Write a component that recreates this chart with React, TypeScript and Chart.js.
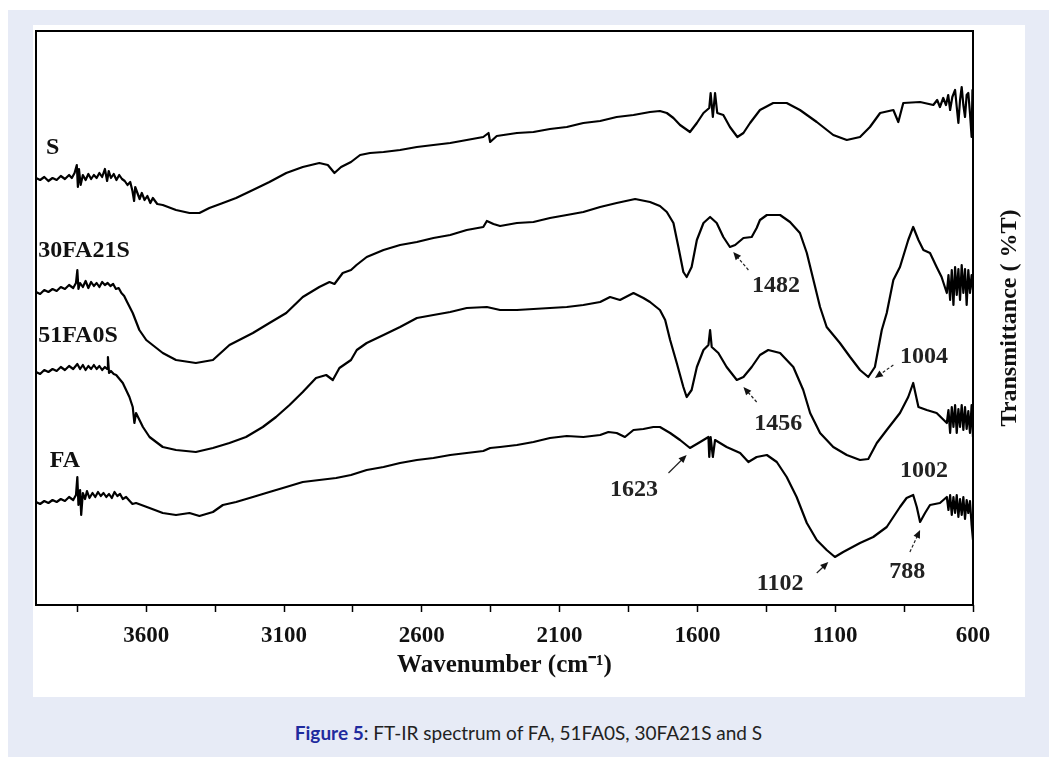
import React, { useEffect, useRef } from "react";
import { Chart, registerables } from "chart.js";

Chart.register(...registerables);

// ---------- data (wavenumber in cm-1, transmittance in arbitrary offset units) ----------
const S_WN = [4000,3985,3970,3955,3940,3925,3910,3895,3880,3870,3860,3852,3848,3844,3838,3830,3820,3810,3800,3790,3780,3770,3760,3750,3742,3736,3728,3718,3708,3698,3688,3678,3668,3658,3650,3644,3640,3632,3624,3616,3606,3596,3585,3576,3560,3540,3492,3443,3407,3371,3322,3274,3213,3153,3092,3032,2972,2941,2917,2893,2857,2824,2788,2739,2679,2618,2558,2497,2437,2377,2358,2352,2328,2255,2195,2135,2074,2014,1953,1893,1832,1772,1736,1711,1687,1663,1627,1602,1578,1557,1552,1544,1536,1528,1506,1482,1455,1433,1409,1373,1325,1276,1228,1167,1107,1058,1010,974,937,889,871,853,792,744,730,720,708,698,690,683,675,665,659,653,647,641,635,629,623,617,611,605,602,600];
const S_T = [427,425,428,424,427,425,429,426,430,427,432,440,418,436,420,430,425,431,426,430,427,432,428,436,424,434,427,431,425,430,426,424,420,423,414,404,418,412,406,412,405,409,402,407,401,400,395,392,392,397,402,407,415,423,432,438,442,440,432,438,443,450,452,453,455,458,460,462,465,468,472,463,469,472,473,476,478,482,484,488,490,493,494,492,487,480,473,482,492,497,512,488,512,492,490,478,468,472,482,495,502,502,495,483,470,465,468,478,492,495,483,502,503,500,505,498,507,500,510,495,508,515,498,482,505,518,500,488,510,512,492,468,515,502];

const S30_WN = [4000,3985,3970,3955,3940,3925,3910,3895,3880,3865,3855,3850,3846,3840,3830,3820,3810,3800,3790,3780,3770,3760,3750,3740,3730,3720,3710,3700,3690,3680,3673,3649,3625,3600,3540,3492,3420,3358,3298,3213,3153,3092,3032,2972,2935,2917,2887,2857,2837,2800,2739,2679,2618,2558,2497,2437,2377,2364,2340,2316,2255,2195,2135,2074,2014,1953,1893,1826,1772,1736,1711,1687,1669,1651,1639,1621,1602,1578,1554,1530,1506,1482,1463,1433,1403,1385,1373,1348,1300,1264,1228,1203,1179,1155,1131,1083,1046,1010,980,956,931,913,889,865,835,817,798,780,756,732,714,695,689,683,677,671,665,659,653,647,641,635,629,623,617,611,605,600];
const S30_T = [313,311,315,313,316,314,318,316,320,317,322,335,316,322,318,324,317,323,319,322,318,323,320,322,319,321,316,317,312,309,305,292,275,265,252,245,242,245,260,272,282,292,308,318,323,321,332,335,340,348,355,360,363,367,370,375,378,384,381,379,382,383,387,390,393,398,402,406,403,399,393,382,358,333,328,338,365,382,388,382,368,358,360,367,368,377,385,390,390,383,372,352,325,298,278,262,248,235,228,238,275,292,325,338,365,378,365,355,352,338,328,312,330,305,335,300,338,310,336,305,340,312,336,300,335,312,330,315];

const S51_WN = [4000,3985,3970,3955,3940,3925,3910,3895,3880,3865,3850,3840,3830,3820,3810,3800,3790,3780,3770,3760,3750,3742,3739,3735,3728,3718,3709,3685,3661,3649,3643,3637,3612,3588,3540,3492,3420,3358,3298,3238,3177,3129,3080,3032,2984,2947,2923,2899,2857,2836,2800,2739,2679,2618,2558,2497,2437,2364,2316,2255,2195,2135,2074,2014,1953,1917,1881,1832,1796,1772,1736,1717,1699,1675,1651,1639,1621,1602,1578,1560,1554,1548,1524,1494,1457,1433,1403,1373,1343,1300,1252,1216,1191,1155,1107,1058,1010,980,949,913,865,835,817,798,768,732,695,689,683,677,671,665,659,653,647,641,635,629,623,617,611,605,600];
const S51_T = [233,231,235,233,236,234,238,235,239,236,241,236,240,235,239,236,240,236,239,235,238,236,248,232,234,231,230,222,208,198,182,192,178,168,158,155,153,157,162,168,178,188,200,213,227,230,225,237,245,255,262,270,278,287,290,293,297,298,295,295,296,297,298,300,303,308,305,312,307,303,295,285,265,242,218,208,215,238,255,260,275,258,252,238,225,228,238,250,255,252,238,215,192,172,158,150,145,146,162,175,192,208,222,198,195,192,182,195,172,198,178,200,172,196,178,200,175,198,176,194,172,200,168];

const FA_WN = [4000,3985,3970,3955,3940,3925,3910,3895,3880,3865,3855,3850,3846,3840,3836,3830,3822,3815,3806,3795,3785,3775,3765,3755,3745,3735,3725,3715,3705,3695,3685,3673,3660,3650,3637,3588,3540,3492,3443,3407,3358,3322,3274,3213,3153,3092,3032,2972,2911,2857,2800,2739,2679,2618,2558,2497,2437,2377,2352,2316,2255,2195,2135,2074,2014,1953,1923,1893,1863,1832,1796,1760,1736,1699,1663,1627,1590,1560,1557,1552,1544,1536,1494,1445,1415,1385,1348,1312,1276,1240,1203,1167,1131,1101,1071,1010,962,913,889,865,841,817,804,792,774,756,720,695,689,683,677,671,665,659,653,647,641,635,629,623,617,611,605,600];
const FA_T = [103,101,104,102,105,103,106,104,108,105,110,128,100,115,90,112,106,114,107,112,108,113,109,112,108,111,107,113,109,111,106,108,104,101,102,97,92,90,92,89,93,100,103,108,113,118,123,125,127,130,135,138,142,145,147,150,152,154,157,158,160,163,167,169,168,170,173,172,168,175,176,178,178,172,165,157,163,168,148,168,148,165,158,152,143,148,150,143,128,108,82,65,55,48,53,62,68,78,88,98,107,110,98,83,92,100,102,108,95,110,90,108,92,110,88,106,90,108,86,105,92,104,80,65];

const SERIES_NAMES = ["S", "30FA21S", "51FA0S", "FA"];

// axis ticks
const MAJOR_TICKS = [3600, 3100, 2600, 2100, 1600, 1100, 600];
const MINOR_TICKS = [3850, 3350, 2850, 2350, 1850, 1350, 850];

// sample names placed next to curves: [text, wavenumber, value]
const NAME_LABELS: [string, number, number][] = [
  ["S", 3964, 457],
  ["30FA21S", 3992, 354],
  ["51FA0S", 3992, 269],
  ["FA", 3950, 144],
];

// peak labels: [text, wavenumber, value]
const PEAK_LABELS: [string, number, number][] = [
  ["1482", 1315, 319],
  ["1004", 778, 248],
  ["1456", 1307, 181],
  ["1002", 778, 134],
  ["1623", 1830, 115],
  ["1102", 1300, 21],
  ["788", 839, 33],
];

// arrows: [tailWn, tailVal, headWn, headVal, dashed]
const ARROWS: [number, number, number, number, boolean][] = [
  [1415, 335, 1470, 353, true],
  [889, 240, 956, 227, true],
  [1385, 203, 1433, 218, true],
  [1705, 132, 1639, 150, false],
  [1167, 32, 1125, 43, false],
  [829, 53, 792, 75, true],
];

const X_TITLE = "Wavenumber (cm\u207B\u00B9)";
const Y_TITLE = "Transmittance ( %T)";

const SERIF = "'Liberation Serif', 'Times New Roman', serif";

const toPoints = (xs: number[], ys: number[]) => xs.map((x, i) => ({ x, y: ys[i] }));

const annotPlugin = {
  id: "annot",
  afterDatasetsDraw(chart: any) {
    const { ctx, chartArea, scales } = chart;
    const xs = scales.x;
    const ys = scales.y;
    ctx.save();
    // frame
    ctx.strokeStyle = "#000";
    ctx.lineWidth = 2;
    ctx.strokeRect(chartArea.left, chartArea.top, chartArea.right - chartArea.left, chartArea.bottom - chartArea.top);

    // sample names
    ctx.fillStyle = "#111";
    ctx.font = `bold 24px ${SERIF}`;
    ctx.textBaseline = "middle";
    ctx.textAlign = "left";
    NAME_LABELS.forEach(([t, w, v]) => {
      ctx.fillText(t, xs.getPixelForValue(w), ys.getPixelForValue(v));
    });

    // peak labels
    ctx.fillStyle = "#222";
    ctx.textAlign = "center";
    PEAK_LABELS.forEach(([t, w, v]) => {
      ctx.fillText(t, xs.getPixelForValue(w), ys.getPixelForValue(v));
    });

    // arrows
    ARROWS.forEach(([tw, tv, hw, hv, dashed]) => {
      const x1 = xs.getPixelForValue(tw);
      const y1 = ys.getPixelForValue(tv);
      const x2 = xs.getPixelForValue(hw);
      const y2 = ys.getPixelForValue(hv);
      const ang = Math.atan2(y2 - y1, x2 - x1);
      ctx.strokeStyle = "#222";
      ctx.lineWidth = 1.2;
      ctx.setLineDash(dashed ? [3, 2] : []);
      ctx.beginPath();
      ctx.moveTo(x1, y1);
      ctx.lineTo(x2 - 5 * Math.cos(ang), y2 - 5 * Math.sin(ang));
      ctx.stroke();
      ctx.setLineDash([]);
      ctx.fillStyle = "#111";
      ctx.beginPath();
      ctx.moveTo(x2, y2);
      ctx.lineTo(x2 - 8 * Math.cos(ang) + 3.5 * Math.sin(ang), y2 - 8 * Math.sin(ang) - 3.5 * Math.cos(ang));
      ctx.lineTo(x2 - 8 * Math.cos(ang) - 3.5 * Math.sin(ang), y2 - 8 * Math.sin(ang) + 3.5 * Math.cos(ang));
      ctx.closePath();
      ctx.fill();
    });

    // right-side y title (reads bottom to top)
    ctx.save();
    ctx.translate(chartArea.right + 37, (chartArea.top + chartArea.bottom) / 2);
    ctx.rotate(-Math.PI / 2);
    ctx.fillStyle = "#111";
    ctx.font = `bold 24px ${SERIF}`;
    ctx.textAlign = "center";
    ctx.textBaseline = "middle";
    ctx.fillText(Y_TITLE, 0, 0);
    ctx.restore();

    ctx.restore();
  },
};

export default function App() {
  const canvasRef = useRef<HTMLCanvasElement | null>(null);

  useEffect(() => {
    const canvas = canvasRef.current;
    if (!canvas) return;
    const mk = (label: string, xs: number[], ys: number[]) => ({
      label,
      data: toPoints(xs, ys),
      borderColor: "#000",
      borderWidth: 2.2,
      borderJoinStyle: "round",
      pointRadius: 0,
      tension: 0,
      fill: false,
    });
    const chart = new Chart(canvas, {
      type: "line",
      data: {
        datasets: [
          mk(SERIES_NAMES[0], S_WN, S_T),
          mk(SERIES_NAMES[1], S30_WN, S30_T),
          mk(SERIES_NAMES[2], S51_WN, S51_T),
          mk(SERIES_NAMES[3], FA_WN, FA_T),
        ],
      },
      options: {
        responsive: false,
        animation: false,
        events: [],
        layout: { padding: { left: 3, top: 6, right: 52, bottom: 0 } },
        plugins: {
          legend: { display: false },
          tooltip: { enabled: false },
        },
        scales: {
          x: {
            type: "linear",
            reverse: true,
            min: 600,
            max: 4000,
            afterBuildTicks: (scale: any) => {
              scale.ticks = [...MAJOR_TICKS, ...MINOR_TICKS]
                .sort((a, b) => b - a)
                .map((v) => ({ value: v, major: MAJOR_TICKS.includes(v) }));
            },
            afterFit: (scale: any) => {
              scale.height = 92;
            },
            border: { display: false },
            grid: {
              drawOnChartArea: false,
              drawTicks: true,
              tickLength: 7,
              tickWidth: 1.5,
              tickColor: "#000",
            },
            ticks: {
              autoSkip: false,
              maxRotation: 0,
              padding: 10,
              color: "#111",
              font: { family: SERIF, size: 23, weight: "bold" },
              callback: (v: any) => (MAJOR_TICKS.includes(Number(v)) ? String(v) : ""),
            },
            title: {
              display: true,
              text: X_TITLE,
              color: "#111",
              font: { family: SERIF, size: 25, weight: "bold" },
              padding: { top: 0, bottom: 16 },
            },
          },
          y: {
            type: "linear",
            min: 0,
            max: 574,
            display: false,
          },
        },
      },
      plugins: [annotPlugin],
    } as any);
    return () => chart.destroy();
  }, []);

  return (
    <div
      style={{
        position: "absolute",
        left: 8,
        top: 10,
        width: 1041,
        height: 747,
        background: "#e7ebf6",
      }}
    >
      <div
        style={{
          position: "absolute",
          left: 25,
          top: 15,
          width: 992,
          height: 672,
          background: "#ffffff",
        }}
      >
        <canvas ref={canvasRef} width={992} height={672} style={{ display: "block" }} />
      </div>
      <div
        style={{
          position: "absolute",
          left: 0,
          top: 711,
          width: 1041,
          textAlign: "center",
          fontFamily: "Lato, 'Open Sans', sans-serif",
          fontSize: 19,
          lineHeight: "24px",
          color: "#222",
        }}
      >
        <span style={{ color: "#1f2a9e", fontWeight: "bold" }}>Figure 5</span>: FT-IR spectrum of FA, 51FA0S, 30FA21S and S
      </div>
    </div>
  );
}
